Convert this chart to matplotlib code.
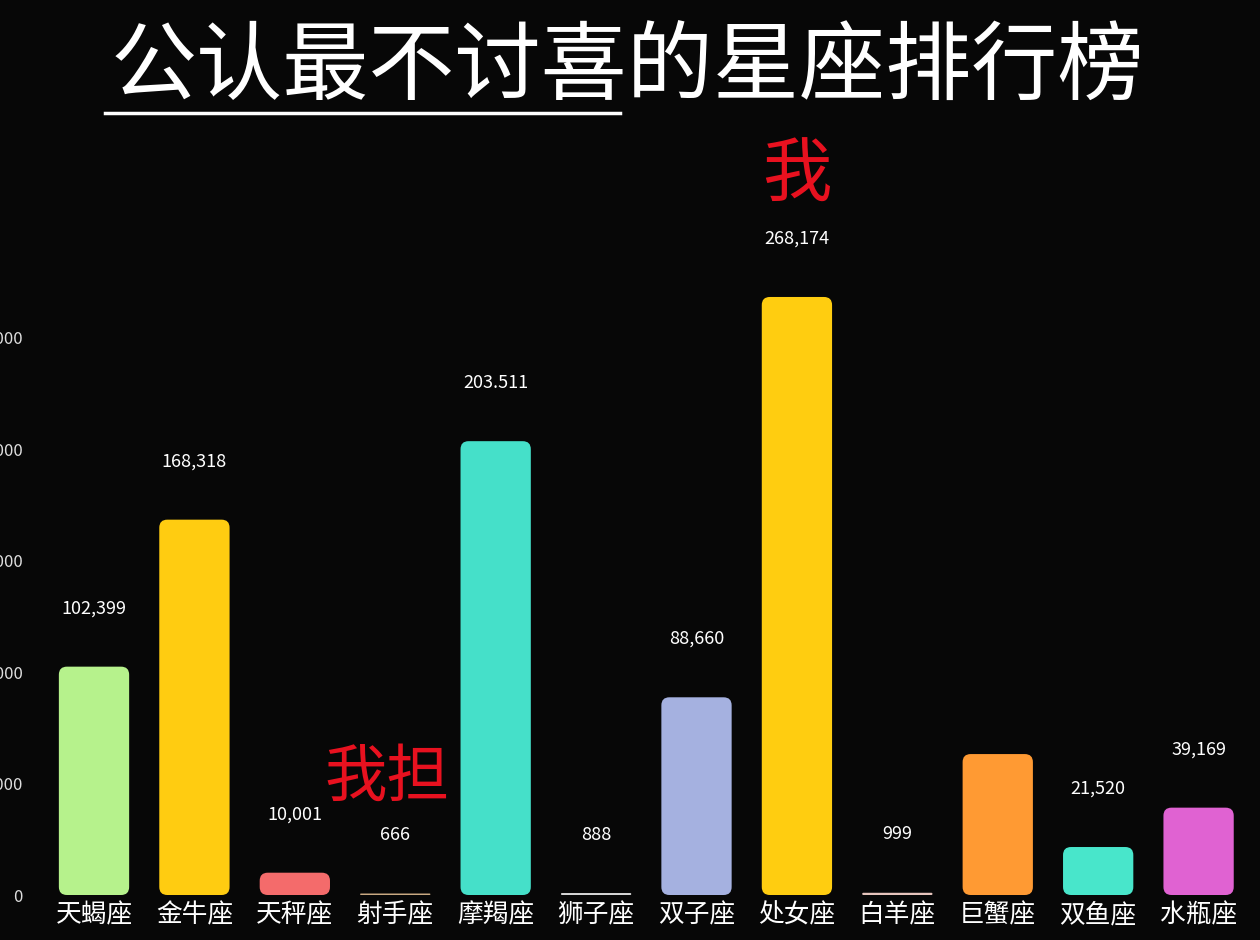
import matplotlib
matplotlib.use("Agg")
import matplotlib.pyplot as plt
from matplotlib.patches import FancyBboxPatch
from matplotlib.lines import Line2D
from matplotlib.ticker import FuncFormatter

plt.rcParams['font.family'] = ['Noto Sans CJK SC', 'DejaVu Sans']

# 数据
signs = ['天蝎座', '金牛座', '天秤座', '射手座', '摩羯座', '狮子座',
         '双子座', '处女座', '白羊座', '巨蟹座', '双鱼座', '水瓶座']
values = [102399, 168318, 10001, 666, 203511, 888,
          88660, 268174, 999, 63200, 21520, 39169]
value_labels = ['102,399', '168,318', '10,001', '666', '203.511', '888',
                '88,660', '268,174', '999', '', '21,520', '39,169']
colors = ['#b6f28c', '#ffcc11', '#f46b6b', '#c9a982', '#45e0c9', '#d6d6d6',
          '#a5b1e0', '#ffcd10', '#e6c4bc', '#ff9a33', '#48e6cb', '#e062d2']
y_ticks = [0, 50000, 100000, 150000, 200000, 250000]

bg = '#070707'
W, H = 1260, 940
fig = plt.figure(figsize=(12.6, 9.4), dpi=100, facecolor=bg)
ax_l, ax_b, ax_w, ax_h = 43.8 / W, 45 / H, 1205 / W, 669 / H
ax = fig.add_axes([ax_l, ax_b, ax_w, ax_h], facecolor=bg)

x = list(range(len(signs)))
ymax = 300000
ax.set_xlim(-0.5, len(signs) - 0.5)
ax.set_ylim(0, ymax)

# 先画普通柱子，再换成圆角
bars = ax.bar(x, values, width=0.7, color=colors)
x_per_px = len(signs) / 1205
y_per_px = ymax / 669
aspect = y_per_px / x_per_px
for b, c in zip(bars, colors):
    h_x = b.get_height() / aspect
    r = min(0.08, h_x / 2, b.get_width() / 2)
    p = FancyBboxPatch((b.get_x(), b.get_y()), b.get_width(), b.get_height(),
                       boxstyle=f"round,pad=0,rounding_size={r}",
                       mutation_aspect=aspect, facecolor=c, edgecolor='none')
    b.remove()
    ax.add_patch(p)

for xi, v, lab in zip(x, values, value_labels):
    if lab:
        ax.annotate(lab, (xi, v), xytext=(0, 42), textcoords='offset points',
                    ha='center', va='center', color='white', fontsize=13)

ax.set_xticks(x)
ax.set_xticklabels(signs, fontsize=18.5, color='white', fontweight='medium')
ax.set_yticks(y_ticks)
ax.yaxis.set_major_formatter(FuncFormatter(lambda v, p: f'{int(v):,}'))
ax.tick_params(axis='x', length=0, pad=5)
ax.tick_params(axis='y', length=0, pad=15, labelsize=12, labelcolor='#dddddd')
for s in ax.spines.values():
    s.set_visible(False)

# 标题和下划线
fig.text(627 / W, 1 - 70 / H, '公认最不讨喜的星座排行榜', ha='center', va='center',
         color='white', fontsize=62, fontweight='medium')
fig.add_artist(Line2D([105 / W, 620 / W], [1 - 113 / H, 1 - 113 / H],
                      color='white', lw=2.5, transform=fig.transFigure))

# 红色批注
fig.text(797 / W, 1 - 176 / H, '我', ha='center', va='center',
         color='#e8111f', fontsize=50, fontweight='medium')
fig.text(387 / W, 1 - 778 / H, '我担', ha='center', va='center',
         color='#e8111f', fontsize=45, fontweight='medium')

plt.savefig('out.png', dpi=100, facecolor=bg)
